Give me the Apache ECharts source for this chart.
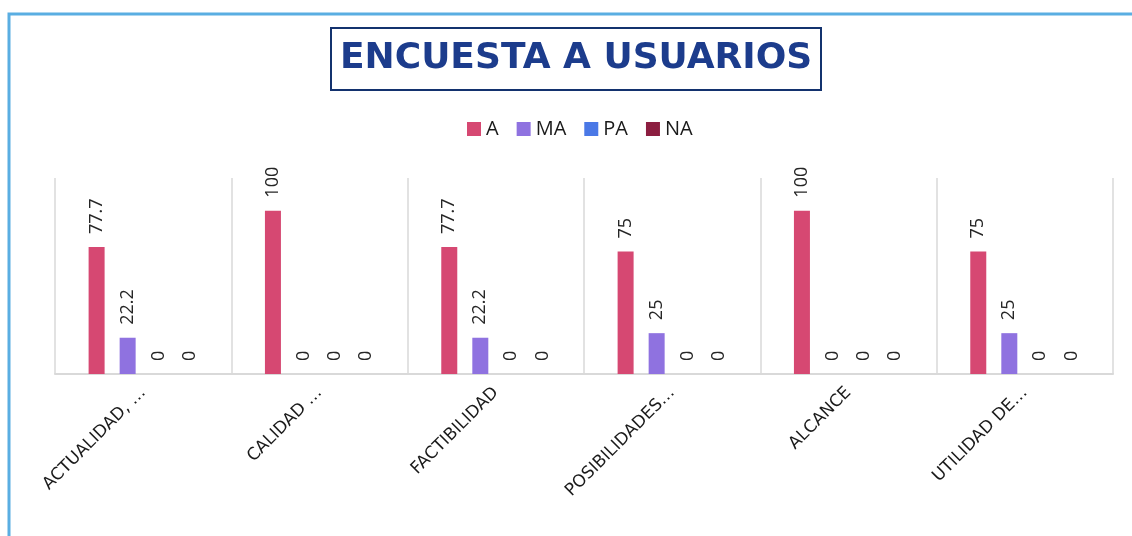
<!DOCTYPE html>
<html lang="es">
<head>
<meta charset="utf-8">
<title>Encuesta a usuarios</title>
<script src="https://cdn.jsdelivr.net/npm/echarts@6/dist/echarts.min.js"></script>
<style>
  html, body { margin: 0; padding: 0; background: #fff; }
  #chart { width: 1132px; height: 536px; }
</style>
</head>
<body>
<div id="chart"></div>
<script type="text/javascript">
  let categories = ['ACTUALIDAD, …', 'CALIDAD …', 'FACTIBILIDAD', 'POSIBILIDADES…', 'ALCANCE', 'UTILIDAD DE…'];
  let seriesNames = ['A', 'MA', 'PA', 'NA'];
  let valuesA = [77.7, 100, 77.7, 75, 100, 75];
  let valuesMA = [22.2, 0, 22.2, 25, 0, 25];
  let valuesPA = [0, 0, 0, 0, 0, 0];
  let valuesNA = [0, 0, 0, 0, 0, 0];
  let colors = ['#d64872', '#8f72e0', '#4a78e6', '#8c1e40'];

  let chart = echarts.init(document.getElementById('chart'));

  let allValues = [valuesA, valuesMA, valuesPA, valuesNA];
  let series = [];
  allValues.forEach((vals, i) => {
    series.push({
      name: seriesNames[i],
      type: 'bar',
      data: vals,
      barWidth: 16,
      barGap: '94%',
      itemStyle: { color: colors[i] },
      label: {
        show: true,
        position: 'top',
        rotate: 90,
        align: 'left',
        verticalAlign: 'middle',
        distance: 13,
        color: '#262626',
        fontFamily: 'Open Sans',
        fontSize: 18
      }
    });
  });

  let option = {
    animation: false,
    color: colors,
    title: {
      text: 'ENCUESTA A USUARIOS',
      left: 331,
      top: 28,
      padding: [13, 9, 13, 9],
      borderColor: '#13326e',
      borderWidth: 2,
      textStyle: {
        color: '#1c3c8c',
        fontFamily: 'DejaVu Sans',
        fontWeight: 'bold',
        fontSize: 36
      }
    },
    legend: {
      data: seriesNames,
      top: 114,
      left: 462,
      icon: 'rect',
      itemWidth: 14,
      itemHeight: 14,
      itemGap: 18,
      textStyle: {
        color: '#1a1a1a',
        fontFamily: 'Open Sans',
        fontSize: 20
      }
    },
    graphic: [{
      type: 'rect',
      shape: { x: 9, y: 14, width: 1300, height: 700 },
      style: { fill: 'none', stroke: '#5aaee2', lineWidth: 3 },
      silent: true
    }],
    grid: {
      left: 55,
      right: 19,
      top: 178,
      bottom: 162
    },
    xAxis: {
      type: 'category',
      data: categories,
      axisLine: { lineStyle: { color: '#d9d9d9', width: 2 } },
      axisTick: { show: false },
      splitLine: { show: true, lineStyle: { color: '#d9d9d9', width: 1.5 } },
      axisLabel: {
        rotate: 45,
        interval: 0,
        margin: 16,
        color: '#1a1a1a',
        fontFamily: 'DejaVu Sans',
        fontSize: 17
      }
    },
    yAxis: {
      type: 'value',
      min: 0,
      max: 120,
      show: false
    },
    series: series
  };

  chart.setOption(option);
</script>
</body>
</html>
